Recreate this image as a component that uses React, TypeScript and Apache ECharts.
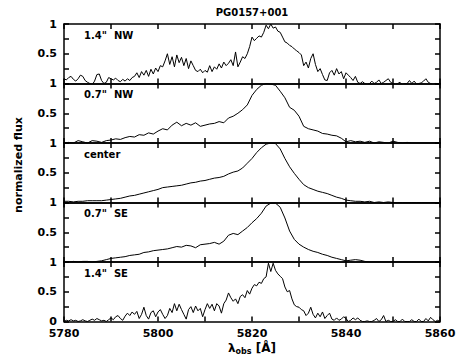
import React, { useEffect, useRef } from "react";
import * as echarts from "echarts";

// wavelength grid parameters
const LAMBDA_START = 5780;
const LAMBDA_END = 5860;
const FINE_STEP = 0.5;
const COARSE_STEP = 1;

const X_TICK_LABELS = [5780, 5800, 5820, 5840, 5860];
const PANEL_LABELS = ['1.4"  NW', '0.7"  NW', "center", '0.7"  SE', '1.4"  SE'];
const TITLE = "PG0157+001";
const Y_TITLE = "normalized flux";

// 1.4" NW, 0.5 Å steps
const nw14 = [
  0.08, 0.06, 0.1, 0.12, 0.07, 0.04, 0.08, 0.14, 0.12, 0.05,
  0.02, 0.0, -0.02, 0.04, 0.15, 0.16, 0.05, 0.0, 0.02, 0.1,
  0.08, 0.06, 0.09, 0.05, 0.03, 0.07, 0.04, 0.08, 0.05, 0.1,
  0.12, 0.18, 0.1, 0.2, 0.14, 0.22, 0.12, 0.24, 0.16, 0.26,
  0.2, 0.3, 0.28, 0.38, 0.5, 0.32, 0.45, 0.28, 0.48, 0.35,
  0.44, 0.3, 0.42, 0.25, 0.38, 0.3, 0.22, 0.2, 0.24, 0.18,
  0.22, 0.19, 0.3, 0.2, 0.28, 0.24, 0.33, 0.26, 0.36, 0.3,
  0.34, 0.4, 0.3, 0.53, 0.28, 0.36, 0.45, 0.42, 0.5, 0.62,
  0.78, 0.72, 0.76, 0.8, 0.78, 0.86, 0.98, 0.92, 1.0, 0.93,
  0.95, 0.88, 0.86, 0.78, 0.7, 0.68, 0.64, 0.62, 0.58, 0.55,
  0.52, 0.48, 0.3, 0.36, 0.26, 0.42, 0.5, 0.32, 0.2, 0.25,
  0.15, 0.06, 0.05, 0.18, 0.22, 0.14, 0.25, 0.16, 0.2, 0.08,
  0.18, 0.14, 0.1, 0.05, 0.12, 0.02, 0.0, 0.03, 0.0, -0.02,
  0.0, 0.04, 0.0, 0.02, 0.06, 0.0, 0.02, 0.05, 0.08, 0.02,
  0.0, -0.02, 0.0, 0.02, -0.02, 0.0, 0.0, 0.05, 0.0, 0.04,
  -0.01, 0.0, 0.01, 0.04, 0.08, 0.02, 0.0, -0.02, 0.0, 0.0,
  0.0,
];

// 0.7" NW, 1 Å steps
const nw07 = [
  0.0, 0.01, 0.0, 0.04, 0.02, 0.0, 0.04, 0.03, 0.01, 0.04,
  0.05, 0.07, 0.06, 0.09, 0.11, 0.1, 0.14, 0.13, 0.17, 0.15,
  0.2, 0.24, 0.22, 0.3, 0.35, 0.29, 0.33, 0.3, 0.34, 0.28,
  0.3, 0.32, 0.33, 0.36, 0.34, 0.42, 0.45, 0.5, 0.56, 0.64,
  0.8, 0.9, 0.97, 1.0, 0.99, 0.97, 0.87, 0.76, 0.6, 0.55,
  0.45, 0.28, 0.24, 0.22, 0.2, 0.16, 0.15, 0.13, 0.12, 0.08,
  0.02, 0.04, 0.02, 0.03, 0.01, 0.03, 0.0, 0.02, 0.01, 0.0,
  0.03, 0.01, 0.0, 0.01, 0.0, 0.0, 0.0, 0.0, 0.0, 0.0,
  0.0,
];

// center, 1 Å steps
const center = [
  0.02, 0.02, 0.01, 0.02, 0.02, 0.03, 0.03, 0.03, 0.03, 0.04,
  0.05, 0.06, 0.07, 0.09, 0.11, 0.12, 0.14, 0.16, 0.18, 0.2,
  0.22, 0.25, 0.26, 0.27, 0.28, 0.29, 0.31, 0.33, 0.34, 0.36,
  0.37, 0.39, 0.41, 0.42, 0.44, 0.48, 0.51, 0.53, 0.58, 0.66,
  0.74, 0.84, 0.92, 0.98, 1.0, 0.99, 0.9, 0.74, 0.6, 0.49,
  0.39, 0.3, 0.25, 0.22, 0.19, 0.17, 0.15, 0.12, 0.09, 0.07,
  0.04, 0.03, 0.02, 0.02, 0.01, 0.02, 0.0, 0.01, 0.0, 0.01,
  0.0, 0.0, 0.0, 0.0, 0.0, 0.0, 0.0, 0.0, 0.0, 0.0,
  0.0,
];

// 0.7" SE, 1 Å steps
const se07 = [
  0.01, 0.0, 0.01, 0.0, 0.01, 0.01, 0.0, 0.01, 0.02, 0.04,
  0.06, 0.07, 0.08, 0.09, 0.11, 0.12, 0.13, 0.16, 0.17, 0.19,
  0.2, 0.21, 0.22, 0.24, 0.26, 0.25, 0.28, 0.27, 0.24, 0.29,
  0.3, 0.31, 0.33, 0.3, 0.35, 0.45, 0.48, 0.46, 0.52, 0.58,
  0.66, 0.73, 0.82, 0.94, 0.99, 0.99, 0.92, 0.74, 0.52, 0.38,
  0.3, 0.25, 0.21, 0.18, 0.16, 0.13, 0.11, 0.08, 0.06, 0.04,
  0.02, 0.03, 0.04, 0.03, 0.01, 0.0, 0.0, 0.0, 0.0, 0.0,
  0.0, 0.0, 0.0, 0.0, 0.0, 0.0, 0.0, 0.0, 0.0, 0.0,
  0.0,
];

// 1.4" SE, 0.5 Å steps
const se14 = [
  0.0, 0.02, 0.01, 0.03, 0.01, 0.02, 0.0, 0.01, 0.03, 0.01,
  0.0, 0.02, 0.04, 0.02, 0.05, 0.03, 0.01, 0.02, 0.0, 0.03,
  0.06, 0.03, 0.08, 0.1, 0.05, 0.02, 0.09, 0.14, 0.1, 0.16,
  0.12, 0.17, 0.05, 0.12, 0.24, 0.1, 0.04, 0.15, 0.18, 0.08,
  0.16, 0.2, 0.12, 0.05, 0.1, 0.22, 0.15, 0.3, 0.18, 0.29,
  0.2, 0.12, 0.04, 0.2, 0.25, 0.15, 0.26, 0.18, 0.22, 0.08,
  0.2, 0.3, 0.22, 0.29, 0.18, 0.3, 0.26, 0.14, 0.3, 0.36,
  0.48, 0.4, 0.34, 0.38, 0.3, 0.42, 0.45, 0.4, 0.52, 0.46,
  0.56, 0.62, 0.6, 0.66, 0.64, 0.72, 0.75, 0.98, 0.84, 0.98,
  0.86, 0.8, 0.76, 0.72, 0.58, 0.5, 0.52, 0.38, 0.28, 0.25,
  0.24, 0.2, 0.18, 0.1, 0.14, 0.24, 0.12, 0.06, 0.14, 0.08,
  0.16, 0.05, 0.1, 0.14, 0.04, 0.02, 0.06, 0.02, 0.04, 0.08,
  0.05, 0.0, 0.02, 0.06, 0.03, 0.06, 0.02, 0.0, 0.0, 0.01,
  0.0, 0.0, 0.02, 0.05, 0.0, 0.03, 0.1, 0.0, 0.02, 0.0,
  0.0, 0.03, 0.0, 0.0, 0.04, 0.0, 0.0, 0.0, 0.03, 0.0,
  0.0, 0.04, 0.0, 0.0, 0.05, 0.01, 0.07, 0.03, 0.0, 0.02,
  0.0,
];

const PANELS = [
  { values: nw14, step: FINE_STEP },
  { values: nw07, step: COARSE_STEP },
  { values: center, step: COARSE_STEP },
  { values: se07, step: COARSE_STEP },
  { values: se14, step: FINE_STEP },
];

const FONT = "DejaVu Sans";
const LEFT = 64;
const RIGHT_EDGE = 440;
const TOP = 24;
const PANEL_H = 59.5;
const W = 463;
const H = 363;

export default function App() {
  const ref = useRef<HTMLDivElement>(null);
  useEffect(() => {
    if (!ref.current) return;
    const chart = echarts.init(ref.current, null, { renderer: "svg" });
    const n = PANELS.length;
    const grids: any[] = [];
    const xAxes: any[] = [];
    const yAxes: any[] = [];
    const series: any[] = [];
    const graphics: any[] = [];
    const lineStyle = { color: "#000", width: 1.5 };
    PANELS.forEach((p, i) => {
      grids.push({
        left: LEFT,
        width: RIGHT_EDGE - LEFT,
        top: TOP + i * PANEL_H,
        height: PANEL_H,
        outerBoundsMode: "none",
      });
      const isLast = i === n - 1;
      ["bottom", "top"].forEach((pos) => {
        xAxes.push({
          type: "value",
          gridIndex: i,
          position: pos,
          min: LAMBDA_START,
          max: LAMBDA_END,
          interval: 10,
          axisLine: { show: true, onZero: false, lineStyle },
          axisTick: { show: true, inside: true, length: 5, lineStyle },
          splitLine: { show: false },
          axisLabel: {
            show: isLast && pos === "bottom",
            margin: 6,
            color: "#000",
            fontFamily: FONT,
            fontWeight: "bold",
            fontSize: 11,
            formatter: (v: number) => (X_TICK_LABELS.includes(v) ? String(v) : ""),
          },
        });
      });
      ["left", "right"].forEach((pos) => {
        yAxes.push({
          type: "value",
          gridIndex: i,
          position: pos,
          min: 0,
          max: 1,
          interval: 0.25,
          axisLine: { show: true, onZero: false, lineStyle },
          axisTick: { show: true, inside: true, length: 5, lineStyle },
          splitLine: { show: false },
          axisLabel: {
            show: pos === "left",
            margin: 7,
            color: "#000",
            fontFamily: FONT,
            fontWeight: "bold",
            fontSize: 11,
            showMinLabel: true,
            showMaxLabel: true,
            formatter: (v: number) => {
              if (Math.abs(v - 0.5) < 1e-9) return "0.5";
              if (Math.abs(v - 1) < 1e-9) return "1";
              if (v === 0 && isLast) return "0";
              return "";
            },
          },
        });
      });
      series.push({
        type: "line",
        xAxisIndex: i * 2,
        yAxisIndex: i * 2,
        data: p.values.map((v, k) => [LAMBDA_START + k * p.step, v]),
        showSymbol: false,
        symbol: "none",
        clip: true,
        lineStyle: { color: "#000", width: 1 },
      });
      graphics.push({
        type: "text",
        left: 84,
        top: TOP + i * PANEL_H + 6,
        style: {
          text: PANEL_LABELS[i],
          fontFamily: FONT,
          fontWeight: "bold",
          fontSize: 10,
          fill: "#000",
        },
      });
    });
    graphics.push({
      type: "text",
      x: (LEFT + RIGHT_EDGE) / 2,
      y: 12,
      style: {
        text: TITLE,
        fontFamily: FONT,
        fontWeight: "bold",
        fontSize: 10,
        fill: "#000",
        align: "center",
        verticalAlign: "middle",
      },
    });
    graphics.push({
      type: "text",
      x: 18,
      y: 165,
      rotation: Math.PI / 2,
      style: {
        text: Y_TITLE,
        fontFamily: FONT,
        fontWeight: "bold",
        fontSize: 11,
        fill: "#000",
        align: "center",
        verticalAlign: "middle",
      },
    });
    graphics.push({
      type: "text",
      x: 252,
      y: 348,
      style: {
        text: "{a|λ}{b|obs}{a| [Å]}",
        align: "center",
        verticalAlign: "middle",
        rich: {
          a: { fontFamily: FONT, fontWeight: "bold", fontSize: 12, fill: "#000", color: "#000" },
          b: {
            fontFamily: FONT,
            fontWeight: "bold",
            fontSize: 8,
            fill: "#000",
            color: "#000",
            padding: [6, 0, 0, 0],
          },
        },
      },
    });
    chart.setOption({
      animation: false,
      backgroundColor: "#fff",
      grid: grids,
      xAxis: xAxes,
      yAxis: yAxes,
      series,
      graphic: graphics,
    });
    return () => chart.dispose();
  }, []);
  return <div ref={ref} style={{ width: W, height: H, position: "absolute", left: 0, top: 0 }} />;
}
